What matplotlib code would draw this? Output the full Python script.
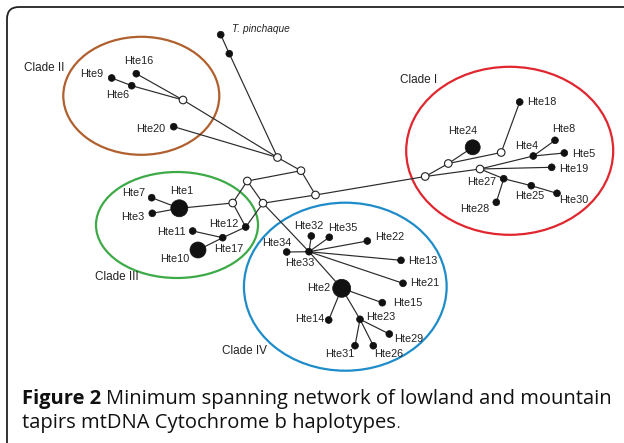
import matplotlib.pyplot as plt
from matplotlib.patches import Ellipse, Circle, FancyBboxPatch

# Nodi della rete (coordinate in pixel dell'immagine)
node_names = ['Tp1', 'Tp2', 'A', 'B', 'C', 'W2', 'Hte16', 'Hte9', 'Hte6', 'Hte20',
              'E', 'F', 'G', 'Hte12', 'Hte17', 'Hte11', 'Hte10', 'Hte1', 'Hte7', 'Hte3',
              'H', 'I', 'J', 'K', 'Hte24', 'Hte18', 'Hte4', 'Hte8', 'Hte5', 'Hte19',
              'Hte27', 'Hte25', 'Hte30', 'Hte28',
              'Hte33', 'Hte34', 'Hte32', 'Hte35', 'Hte22', 'Hte13', 'Hte21', 'Hte2',
              'Hte15', 'Hte14', 'Hte23', 'Hte29', 'Hte26', 'Hte31']
node_x = [220.7, 229.3, 277.5, 301.0, 315.5, 183.0, 136.3, 111.7, 131.7, 173.7,
          247.3, 232.7, 263.0, 245.7, 222.7, 192.7, 198.0, 179.3, 151.7, 152.3,
          425.2, 448.3, 501.2, 480.0, 472.7, 519.7, 533.3, 555.0, 564.3, 551.7,
          503.7, 531.3, 557.0, 496.3,
          309.0, 286.7, 311.3, 329.3, 367.3, 401.0, 403.0, 341.7,
          382.3, 328.7, 360.0, 389.3, 373.3, 355.0]
node_y = [34.7, 53.7, 157.5, 170.7, 195.0, 100.0, 73.7, 78.0, 85.7, 126.7,
          181.0, 203.0, 203.2, 227.0, 237.7, 231.0, 250.0, 208.3, 197.7, 213.3,
          176.5, 163.5, 152.5, 169.0, 147.3, 102.0, 156.0, 140.3, 153.0, 167.3,
          178.7, 185.7, 193.3, 202.3,
          251.7, 252.0, 236.0, 237.3, 241.0, 260.3, 283.3, 288.3,
          302.7, 320.0, 319.3, 334.0, 345.7, 345.7]
# raggio in pixel (0 = nodo mediano vuoto)
node_r = [3.4, 3.4, 0, 0, 0, 0, 3.4, 3.4, 3.4, 3.4,
          0, 0, 0, 3.4, 3.4, 3.4, 8.0, 8.5, 3.4, 3.4,
          0, 0, 0, 0, 7.5, 3.4, 3.4, 3.4, 3.4, 3.4,
          3.4, 3.4, 3.4, 3.4,
          3.4, 3.4, 3.4, 3.4, 3.4, 3.4, 3.4, 9.0,
          3.4, 3.4, 3.4, 3.4, 3.4, 3.4]

edges = [('Tp1', 'Tp2'), ('Tp2', 'A'), ('W2', 'A'), ('Hte20', 'A'), ('W2', 'Hte16'),
         ('W2', 'Hte6'), ('Hte6', 'Hte9'), ('A', 'B'), ('B', 'C'), ('B', 'E'),
         ('C', 'G'), ('E', 'G'), ('E', 'F'), ('F', 'Hte12'), ('G', 'Hte12'),
         ('F', 'Hte1'), ('Hte1', 'Hte7'), ('Hte1', 'Hte3'), ('Hte12', 'Hte17'),
         ('Hte17', 'Hte11'), ('Hte17', 'Hte10'),
         ('C', 'H'), ('H', 'I'), ('I', 'Hte24'), ('I', 'J'), ('J', 'Hte18'), ('H', 'K'),
         ('K', 'Hte4'), ('Hte4', 'Hte8'), ('Hte4', 'Hte5'), ('K', 'Hte19'), ('K', 'Hte27'),
         ('Hte27', 'Hte25'), ('Hte25', 'Hte30'), ('Hte27', 'Hte28'),
         ('G', 'Hte33'), ('Hte33', 'Hte34'), ('Hte33', 'Hte32'), ('Hte33', 'Hte35'),
         ('Hte33', 'Hte22'), ('Hte33', 'Hte13'), ('Hte33', 'Hte21'), ('Hte33', 'Hte2'),
         ('Hte2', 'Hte15'), ('Hte2', 'Hte14'), ('Hte2', 'Hte23'), ('Hte23', 'Hte29'),
         ('Hte23', 'Hte26'), ('Hte23', 'Hte31')]

# Etichette degli aplotipi
label_text = ['Hte16', 'Hte9', 'Hte6', 'Hte20', 'Hte7', 'Hte1', 'Hte3', 'Hte12', 'Hte11',
              'Hte17', 'Hte10', 'Hte18', 'Hte24', 'Hte8', 'Hte4', 'Hte5', 'Hte19', 'Hte27',
              'Hte25', 'Hte30', 'Hte28', 'Hte32', 'Hte35', 'Hte22', 'Hte34', 'Hte33',
              'Hte13', 'Hte21', 'Hte2', 'Hte15', 'Hte14', 'Hte23', 'Hte29', 'Hte26', 'Hte31']
label_x = [139.0, 91.7, 117.3, 150.3, 133.3, 181.7, 132.7, 223.3, 171.7,
           228.3, 174.3, 541.7, 462.7, 563.3, 526.7, 583.3, 573.3, 481.7,
           530.0, 574.0, 475.0, 308.3, 343.3, 390.0, 276.7, 300.0,
           422.7, 425.0, 318.3, 407.7, 310.0, 381.0, 408.3, 388.3, 340.0]
label_y = [60.7, 74.0, 94.7, 129.0, 193.3, 191.0, 216.7, 224.0, 231.7,
           249.0, 259.0, 102.3, 130.7, 129.0, 146.0, 153.7, 169.3, 182.0,
           196.0, 200.3, 209.3, 225.7, 227.7, 237.3, 242.7, 262.7,
           260.7, 282.7, 288.3, 303.3, 319.3, 317.3, 339.3, 354.3, 354.3]

# Cladi: ellissi e nomi
clade_names = ['Clade I', 'Clade II', 'Clade III', 'Clade IV']
clade_label_x = [400.0, 24.0, 95.0, 222.0]
clade_label_y = [80.0, 68.0, 276.7, 351.0]
clade_cx = [509.7, 141.3, 177.0, 345.3]
clade_cy = [150.8, 95.8, 225.0, 286.7]
clade_w = [207.0, 156.0, 162.0, 202.7]
clade_h = [168.0, 118.0, 106.0, 168.0]
clade_colors = ['#E0262E', '#B0602E', '#3DAA48', '#1E8CC8']

W, H = 624, 443
fig = plt.figure(figsize=(W / 100, H / 100), dpi=100)
ax = fig.add_axes([0, 0, 1, 1])
ax.set_xlim(0, W)
ax.set_ylim(H, 0)
ax.axis('off')

# cornice arrotondata
ax.add_patch(FancyBboxPatch((7, 7), 660, 470, boxstyle='round,pad=0,rounding_size=12',
                            fill=False, ec='#222222', lw=1.3, zorder=1))

for name, cx, cy, w, h, c, lx, ly in zip(clade_names, clade_cx, clade_cy, clade_w, clade_h,
                                         clade_colors, clade_label_x, clade_label_y):
    ax.add_patch(Ellipse((cx, cy), w, h, fill=False, ec=c, lw=1.6, zorder=2))
    ax.text(lx, ly, name, fontsize=8.5, family='Liberation Sans', color='#222222',
            ha='left', va='center')

pos = {n: (x, y) for n, x, y in zip(node_names, node_x, node_y)}
for a, b in edges:
    ax.plot([pos[a][0], pos[b][0]], [pos[a][1], pos[b][1]], color='#2a2a2a', lw=0.85, zorder=3)

for n, x, y, r in zip(node_names, node_x, node_y, node_r):
    if r > 0:
        ax.add_patch(Circle((x, y), r, fc='#111111', ec='#111111', lw=0.5, zorder=4))
    else:
        ax.add_patch(Circle((x, y), 3.8, fc='white', ec='#222222', lw=0.8, zorder=4))

for t, x, y in zip(label_text, label_x, label_y):
    ax.text(x, y, t, fontsize=7.8, family='Liberation Sans', color='#222222',
            ha='center', va='center', zorder=5)

ax.text(232, 29, 'T. pinchaque', fontsize=7.3, family='Liberation Sans', style='italic',
        color='#222222', ha='left', va='center')

# didascalia: i pezzi vengono accostati misurandone la larghezza
fs = 14.5
r = fig.canvas.get_renderer()
inv = ax.transData.inverted()


def right_edge(t):
    bb = t.get_window_extent(renderer=r)
    return inv.transform((bb.x1, bb.y0))[0]


t1 = ax.text(22, 404, 'Figure 2', fontsize=fs, family='Open Sans', weight='bold',
             va='baseline', color='#111111')
ax.text(right_edge(t1) + 5, 404, 'Minimum spanning network of lowland and mountain',
        fontsize=fs, family='Open Sans', va='baseline', color='#111111')
t2 = ax.text(22, 428, 'tapirs mtDNA Cytochrome b haplotypes', fontsize=fs, family='Open Sans',
             va='baseline', color='#111111')
ax.text(right_edge(t2) + 0.5, 428, '.', fontsize=9, family='Open Sans', va='baseline',
        color='#111111')

fig.savefig('out.png', dpi=100)
